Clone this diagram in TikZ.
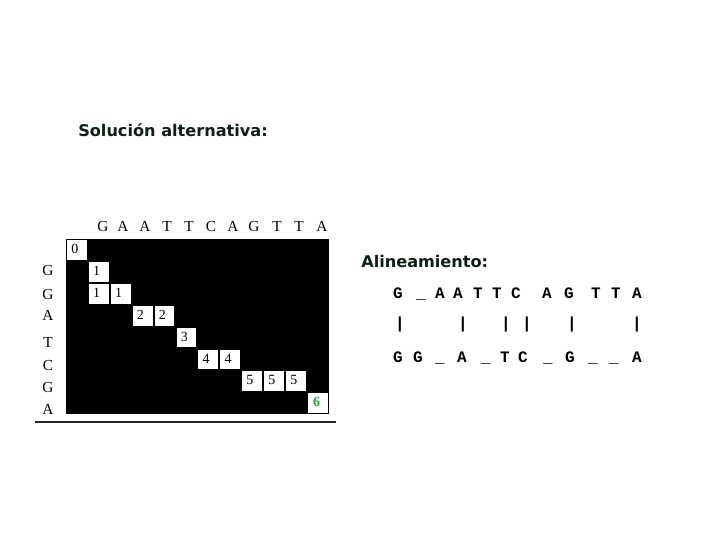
\documentclass[tikz,border=0pt]{standalone}
\usepackage{fontspec}
\setmainfont{Liberation Serif}
\newfontfamily\titlefont{DejaVu Sans}
\newfontfamily\monofont{Liberation Mono}
\definecolor{titlecol}{RGB}{12,32,20}
\definecolor{sixgreen}{RGB}{40,165,40}
\begin{document}
\begin{tikzpicture}[x=0.75pt,y=-0.75pt,
  lbl/.style={font=\fontsize{11.5}{12}\selectfont, inner sep=0pt},
  num/.style={font=\fontsize{10.5}{12}\selectfont, inner sep=0pt, anchor=west},
  ttl/.style={font=\titlefont\bfseries\fontsize{12.1}{14}\selectfont, text=titlecol, inner sep=0pt, anchor=west},
  mono/.style={font=\monofont\bfseries\fontsize{12}{14}\selectfont, inner sep=0pt, anchor=base}]
\useasboundingbox (0,0) rectangle (720,540);
\node[ttl] (title) at (78,130) {Solución alternativa:};
\node[ttl] (alin) at (361,261) {Alineamiento:};
% matrix background
\fill[black] (66,239) rectangle (329,414);
\draw[line width=0.9pt, black!85] (35,422) -- (336,422);
% column letters
\foreach \ch/\x [count=\i] in {G/103,A/123,A/145,T/167,T/189,C/211,A/233,G/254,T/277,T/299,A/322}
  \node[lbl] (c\i) at (\x,226) {\ch};
% row letters
\foreach \ch/\y [count=\i] in {G/270,G/294,A/315,T/342,C/365,G/387,A/409}
  \node[lbl] (r\i) at (48,\y) {\ch};
% white cells: row/col/value
\foreach \r/\c/\v [count=\k] in {0/0/0,1/1/1,2/1/1,2/2/1,3/3/2,3/4/2,4/5/3,5/6/4,5/7/4,6/8/5,6/9/5,6/10/5}{
  \pgfmathsetmacro{\xa}{66+21.9*\c+1}
  \pgfmathsetmacro{\ya}{239+21.9*\r+1}
  \fill[white] (\xa,\ya) rectangle ++(19.8,19.8);
  \node[num] (n\k) at (\xa+4,\ya+9) {\v};
}
\pgfmathsetmacro{\xa}{66+21.9*11+1}
\pgfmathsetmacro{\ya}{239+21.9*7+1}
\fill[white] (\xa,\ya) rectangle ++(19.8,19.8);
\node[num, text=sixgreen, font=\bfseries\fontsize{10.5}{12}\selectfont] (six) at (\xa+5,\ya+9) {6};
% alignment
\foreach \ch/\x [count=\i] in {G/398,\_/421,A/440,A/458,T/478,T/497,C/516,A/547,G/569,T/596,T/616,A/637}
  \node[mono] (a\i) at (\x,298) {\ch};
\foreach \x [count=\i] in {400,463,506,527,572,637}
  \node[mono] (b\i) at (\x,328) {|};
\foreach \ch/\x [count=\i] in {G/398,G/418,\_/440,A/462,\_/486,T/505,C/523,\_/548,G/570,\_/593,\_/614,A/637}
  \node[mono] (g\i) at (\x,362) {\ch};
\end{tikzpicture}
\end{document}
